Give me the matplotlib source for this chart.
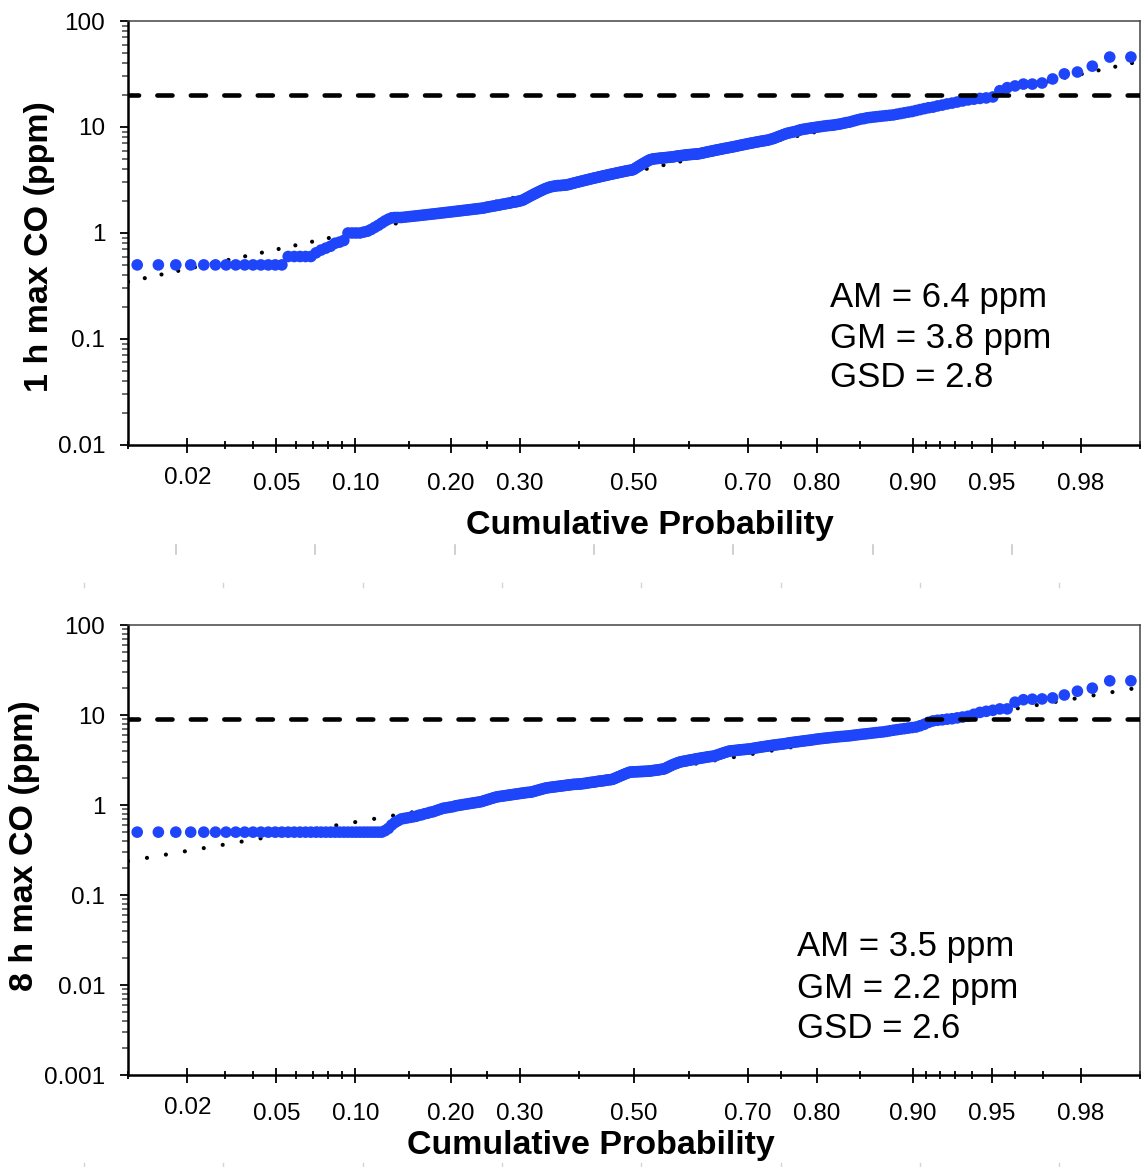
import numpy as np
import matplotlib
matplotlib.use("Agg")
import matplotlib.pyplot as plt
from matplotlib.lines import Line2D
from matplotlib.ticker import FixedLocator, FixedFormatter, NullFormatter, FuncFormatter, LogLocator
from statistics import NormalDist

plt.rcParams['font.family'] = ['Liberation Sans', 'DejaVu Sans']

# ---------------------------------------------------------------------------
# Data: sorted daily maximum CO concentrations (ppm).  The sample has 313 days;
# ranks 4..310 fall inside the 1 %-99 % probability window that is plotted.
# ---------------------------------------------------------------------------
sample_size = 313
first_rank = 4

co_1h = [
    0.5, 0.5, 0.5, 0.5, 0.5, 0.5, 0.5, 0.5, 0.5, 0.5, 0.5, 0.5, 0.5, 0.5,
    0.6, 0.6, 0.6, 0.6, 0.6,
    0.65, 0.69, 0.72, 0.75,
    0.80, 0.82, 0.85,
    1.00, 1.00, 1.00, 1.00, 1.02, 1.04,
    1.08, 1.13, 1.18, 1.24, 1.30, 1.35, 1.39,
    1.40, 1.40, 1.40, 1.41, 1.42, 1.43,
    1.44, 1.45, 1.46, 1.47, 1.48, 1.49, 1.50, 1.51, 1.52, 1.53, 1.54, 1.55, 1.56, 1.57, 1.58,
    1.59, 1.60, 1.61, 1.62, 1.63, 1.64, 1.65, 1.66, 1.67, 1.68, 1.69, 1.70, 1.71, 1.72,
    1.74, 1.76, 1.77, 1.79, 1.80, 1.82, 1.83, 1.85, 1.87, 1.88, 1.90, 1.91, 1.93, 1.95, 1.96,
    1.98, 2.00, 2.02, 2.05,
    2.10, 2.15, 2.20, 2.25, 2.30, 2.35, 2.40, 2.45, 2.50, 2.55, 2.60, 2.64, 2.68, 2.72,
    2.74, 2.76, 2.78, 2.80, 2.80, 2.81, 2.82, 2.83, 2.84,
    2.87, 2.90, 2.93, 2.96, 2.99, 3.02, 3.05, 3.08, 3.11, 3.14, 3.17, 3.20, 3.23, 3.26, 3.29,
    3.32, 3.35, 3.38, 3.41, 3.44, 3.47, 3.50, 3.53, 3.56, 3.59, 3.62, 3.65, 3.68, 3.71, 3.74,
    3.77, 3.80, 3.83, 3.86, 3.89, 3.91, 3.93,
    4.0, 4.1, 4.2, 4.3, 4.4, 4.5, 4.6, 4.7, 4.8, 4.9, 4.95, 5.0,
    5.02, 5.04, 5.06, 5.08, 5.10, 5.12, 5.14, 5.16, 5.18, 5.20, 5.22,
    5.25, 5.30, 5.32, 5.35, 5.38, 5.40, 5.43, 5.46, 5.48, 5.50, 5.52, 5.54, 5.56, 5.58, 5.60,
    5.65, 5.70, 5.75, 5.80, 5.85, 5.90, 5.95, 6.00, 6.05, 6.10, 6.15, 6.20, 6.25, 6.30, 6.35,
    6.40, 6.45, 6.50,
    6.56, 6.62, 6.68, 6.74, 6.80, 6.86, 6.92, 6.98, 7.04, 7.10, 7.16, 7.22, 7.28, 7.34, 7.40,
    7.45, 7.50,
    7.6, 7.7, 7.8, 7.95, 8.1, 8.25, 8.4, 8.55, 8.7, 8.8,
    8.9, 9.0, 9.1, 9.25, 9.4,
    9.5, 9.58, 9.66, 9.74, 9.82, 9.9, 9.98, 10.06, 10.14, 10.22, 10.3, 10.35, 10.4,
    10.5, 10.6, 10.7, 10.85, 11.0, 11.1,
    11.3, 11.5, 11.7, 11.9, 12.0, 12.2,
    12.3, 12.4, 12.5, 12.6, 12.7, 12.8, 12.9, 13.0,
    13.2, 13.4, 13.6, 13.8,
    14.0, 14.3, 14.6, 14.9, 15.2, 15.4,
    15.8, 16.1, 16.5, 16.8,
    17.2, 17.6, 18.0,
    18.3, 18.6, 18.8, 19.2,
    22.0, 23.5, 24.4,
    25.4, 25.4, 26.0, 28.4, 31.7, 33.0, 37.5, 45.7, 45.7,
]

co_8h = [
    0.5, 0.5, 0.5, 0.5, 0.5, 0.5, 0.5, 0.5, 0.5, 0.5, 0.5, 0.5, 0.5, 0.5, 0.5, 0.5, 0.5, 0.5,
    0.5, 0.5, 0.5, 0.5, 0.5, 0.5, 0.5, 0.5, 0.5, 0.5, 0.5, 0.5, 0.5, 0.5, 0.5, 0.5, 0.5, 0.5,
    0.52, 0.55,
    0.60, 0.64, 0.67, 0.70,
    0.71, 0.72, 0.73, 0.74, 0.75,
    0.77, 0.78, 0.80, 0.81, 0.83, 0.84,
    0.86, 0.88, 0.90, 0.92, 0.93, 0.94, 0.95,
    0.96, 0.98, 0.99, 1.00, 1.01, 1.02, 1.03,
    1.04, 1.05, 1.06, 1.07, 1.08, 1.09, 1.11,
    1.13, 1.15, 1.17, 1.19, 1.21, 1.23,
    1.24, 1.25, 1.26, 1.27, 1.28, 1.29, 1.30, 1.31, 1.32, 1.33, 1.34, 1.35, 1.36, 1.37, 1.38,
    1.385, 1.39,
    1.41, 1.43, 1.45, 1.47, 1.49, 1.51, 1.53, 1.55,
    1.56, 1.57, 1.58, 1.59, 1.60, 1.61, 1.62, 1.63, 1.64, 1.65, 1.66, 1.67, 1.68, 1.69, 1.70,
    1.70, 1.71, 1.71,
    1.72, 1.73, 1.74, 1.75, 1.77, 1.78, 1.79, 1.80, 1.81, 1.83, 1.84, 1.85, 1.86, 1.87, 1.89,
    1.90, 1.91, 1.92, 1.94,
    1.98, 2.02, 2.06, 2.10, 2.14, 2.18, 2.22, 2.26, 2.30, 2.33,
    2.33, 2.34, 2.34, 2.35, 2.35, 2.36, 2.36, 2.37, 2.37, 2.38, 2.39,
    2.40, 2.42, 2.43, 2.45, 2.46, 2.48, 2.50, 2.51,
    2.56, 2.62, 2.68, 2.74, 2.80, 2.85, 2.90, 2.95, 3.00,
    3.03, 3.06, 3.08, 3.11, 3.14, 3.17, 3.19, 3.22, 3.25, 3.28, 3.30, 3.33, 3.36, 3.38, 3.41,
    3.44, 3.46, 3.48, 3.50,
    3.56, 3.62, 3.68, 3.74, 3.80, 3.86, 3.92, 3.98,
    4.00, 4.02, 4.04, 4.06, 4.09, 4.11, 4.13, 4.15, 4.17, 4.19,
    4.22, 4.26, 4.30, 4.34, 4.37, 4.41, 4.45, 4.48, 4.52, 4.56, 4.60, 4.63, 4.66, 4.70, 4.73,
    4.76,
    4.80, 4.85, 4.90, 4.94, 4.98, 5.02, 5.06, 5.10, 5.14, 5.18, 5.22, 5.26, 5.30, 5.36, 5.41,
    5.45, 5.49, 5.53, 5.57, 5.61, 5.65, 5.69, 5.73, 5.77, 5.80, 5.84, 5.87,
    5.93, 5.99, 6.04, 6.10, 6.15, 6.20, 6.26, 6.32, 6.38, 6.44, 6.49,
    6.58, 6.68, 6.78, 6.88, 6.97, 7.06, 7.16, 7.26, 7.36,
    7.6, 7.9, 8.3, 8.6,
    8.75, 8.85, 9.0, 9.1,
    9.3, 9.5, 9.7,
    10.2, 10.7,
    11.0, 11.3, 11.7, 11.7,
    13.9, 14.8, 15.0, 15.1, 15.5, 16.7, 18.4, 19.9, 24.0, 24.0,
]

# Summary statistics of the lognormal fits
am_1h, gm_1h, gsd_1h = 6.4, 3.8, 2.8
am_8h, gm_8h, gsd_8h = 3.5, 2.2, 2.6

# Air-quality standards (ppm)
standard_1h = 20
standard_8h = 9

prob_major = [0.02, 0.05, 0.10, 0.20, 0.30, 0.50, 0.70, 0.80, 0.90, 0.95, 0.98]
prob_major_labels = ["0.02", "0.05", "0.10", "0.20", "0.30", "0.50",
                     "0.70", "0.80", "0.90", "0.95", "0.98"]
prob_minor = [0.01, 0.03, 0.04, 0.06, 0.07, 0.08, 0.09, 0.15, 0.25, 0.40,
              0.60, 0.75, 0.85, 0.91, 0.92, 0.93, 0.94, 0.96, 0.97, 0.99]
prob_range = (0.01, 0.99)

# ---------------------------------------------------------------------------
# Normal-probability axis
# ---------------------------------------------------------------------------
_nd = NormalDist()
_ppf = np.vectorize(_nd.inv_cdf, otypes=[float])
_cdf = np.vectorize(_nd.cdf, otypes=[float])


def probit(p):
    p = np.clip(np.asarray(p, dtype=float), 1e-9, 1 - 1e-9)
    return _ppf(p)


def inv_probit(z):
    return _cdf(np.asarray(z, dtype=float))


def plotting_positions(values):
    ranks = first_rank + np.arange(len(values))
    return (ranks - 0.5) / sample_size


BLUE = "#1f45fa"
TICK_FS = 17.5
LABEL_FS = 24.5
STAT_FS = 25

fig = plt.figure(figsize=(11.41, 11.67), dpi=100)

panels = [
    dict(rect=[0.1122, 0.6187, 0.8870, 0.3633], values=co_1h, gm=gm_1h, gsd=gsd_1h,
         am=am_1h, standard=standard_1h, ylim=(0.01, 100),
         ylabel="1 h max CO (ppm)", ylabel_xy=(-0.087, 0.469),
         xlabel_xy=(0.516, -0.189), stat_x=0.6937, stat_y=(0.349, 0.252, 0.158),
         dot_gap=4.1),
    dict(rect=[0.1122, 0.0788, 0.8870, 0.3856], values=co_8h, gm=gm_8h, gsd=gsd_8h,
         am=am_8h, standard=standard_8h, ylim=(0.001, 100),
         ylabel="8 h max CO (ppm)", ylabel_xy=(-0.102, 0.509),
         xlabel_xy=(0.457, -0.156), stat_x=0.661, stat_y=(0.2867, 0.1933, 0.1044),
         dot_gap=4.6),
]

for spec in panels:
    ax = fig.add_axes(spec["rect"])
    ax.set_xscale("function", functions=(probit, inv_probit))
    ax.set_yscale("log")
    ax.set_xlim(*prob_range)
    ax.set_ylim(*spec["ylim"])

    # lognormal fit: GM * GSD ** z
    p_fit = np.array(prob_range)
    y_fit = spec["gm"] * spec["gsd"] ** probit(p_fit)
    ax.plot(p_fit, y_fit, color="black", lw=3.0,
            linestyle=(0, (0.01, spec["dot_gap"])),
            dash_capstyle="round", zorder=2)

    vals = np.asarray(spec["values"], dtype=float)
    ax.scatter(plotting_positions(vals), vals, s=70, color=BLUE,
               edgecolors="none", zorder=3)

    ax.axhline(spec["standard"], color="black", lw=3.3,
               linestyle=(1.0, (3.3, 4.0)), dash_capstyle="round", zorder=4)

    # x ticks
    ax.xaxis.set_major_locator(FixedLocator(prob_major))
    ax.xaxis.set_major_formatter(FixedFormatter(prob_major_labels))
    ax.xaxis.set_minor_locator(FixedLocator(prob_minor))
    ax.xaxis.set_minor_formatter(NullFormatter())
    ax.tick_params(axis="x", which="major", direction="inout", length=10.8,
                   width=1.3, pad=15.0, labelsize=TICK_FS, top=False)
    ax.tick_params(axis="x", which="minor", direction="inout", length=5.8,
                   width=1.3, top=False)
    for tick, lab in zip(ax.xaxis.get_major_ticks(), prob_major_labels):
        if lab == "0.02":
            tick.set_pad(10.5)

    # y ticks
    ax.yaxis.set_major_locator(LogLocator(base=10, numticks=10))
    ax.yaxis.set_major_formatter(FuncFormatter(lambda v, _: f"{v:g}"))
    ax.yaxis.set_minor_locator(LogLocator(base=10, subs=np.arange(2, 10), numticks=20))
    ax.yaxis.set_minor_formatter(NullFormatter())
    ax.tick_params(axis="y", which="major", direction="out", length=5.8,
                   width=1.3, pad=10.6, labelsize=TICK_FS, right=False)
    ax.tick_params(axis="y", which="minor", direction="out", length=4.3,
                   width=1.1, color="#444444", right=False)

    for side in ("left", "bottom"):
        ax.spines[side].set_linewidth(1.8)
        ax.spines[side].set_color("black")
    for side in ("top", "right"):
        ax.spines[side].set_linewidth(1.1)
        ax.spines[side].set_color("#444444")

    ax.set_xlabel("Cumulative Probability", fontsize=LABEL_FS, fontweight="bold")
    ax.xaxis.set_label_coords(*spec["xlabel_xy"])
    ax.xaxis.label.set_verticalalignment("center")
    ax.set_ylabel(spec["ylabel"], fontsize=LABEL_FS, fontweight="bold")
    ax.yaxis.set_label_coords(*spec["ylabel_xy"])
    ax.yaxis.label.set_verticalalignment("center")

    stat_lines = [f"AM = {spec['am']} ppm", f"GM = {spec['gm']} ppm",
                  f"GSD = {spec['gsd']}"]
    for line, yy in zip(stat_lines, spec["stat_y"]):
        ax.text(spec["stat_x"], yy, line, transform=ax.transAxes,
                fontsize=STAT_FS, ha="left", va="center")

# faint page-guide marks between and below the panels
W, H = 1141.0, 1167.0
for k in range(7):
    x = (176 + 139.3 * k) / W
    fig.add_artist(Line2D([x, x], [1 - 545 / H, 1 - 554 / H], transform=fig.transFigure,
                          color="#c8c8c8", lw=1.2))
for k in range(8):
    x = (84 + 139.3 * k) / W
    for y0, y1 in ((583, 587), (1163, 1167)):
        fig.add_artist(Line2D([x, x], [1 - y0 / H, 1 - y1 / H], transform=fig.transFigure,
                              color="#d4d4d4", lw=1.0))

fig.savefig("out.png", dpi=100)
